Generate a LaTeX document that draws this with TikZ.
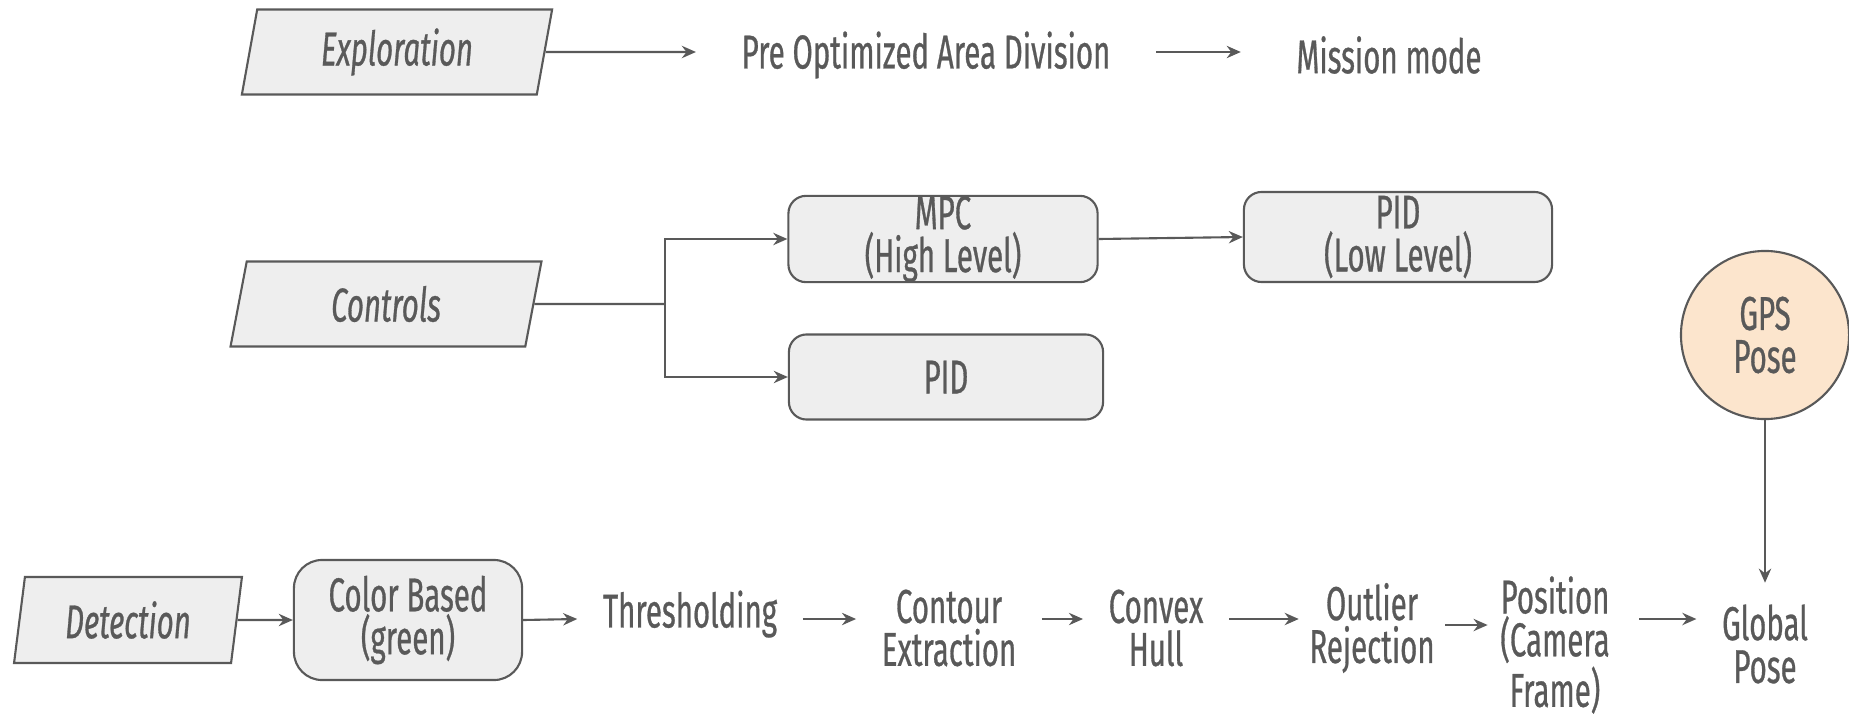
\documentclass[tikz,border=0pt]{standalone}
\usepackage{fontspec}
\setmainfont[FakeStretch=0.62, FakeBold=0.6]{Fira Sans}
\usepackage{tikz}
\usetikzlibrary{positioning, shapes.geometric, arrows.meta, calc}

\definecolor{inkgray}{HTML}{595959}
\definecolor{boxgray}{HTML}{EEEEEE}
\definecolor{gpsfill}{HTML}{FCE5CD}

\begin{document}
\begin{tikzpicture}[
    x=0.01cm, y=-0.01cm,
    % Base styles
    every node/.style={text=inkgray, font=\fontsize{13.5}{12.2}\selectfont},
    basebox/.style={align=center, inner sep=0pt, draw=inkgray, line width=0.6pt},
    % Slanted boxes for the three tasks
    inputbox/.style={basebox, fill=boxgray, trapezium, trapezium left angle=80, trapezium right angle=100,
        trapezium stretches=true, font=\fontsize{13.5}{12.2}\selectfont\itshape},
    % Rounded rectangle for methods
    processbox/.style={basebox, fill=boxgray, rectangle, rounded corners=5pt},
    % Plain text steps
    stagetext/.style={align=center, inner xsep=0.25cm, inner ysep=2pt},
    % Circle for the outside source
    sourcecircle/.style={basebox, circle, fill=gpsfill, minimum size=1.68cm},
    % Arrow styles
    arrow/.style={-{Stealth[length=4pt, width=3.5pt]}, draw=inkgray, line width=0.6pt},
    line/.style={draw=inkgray, line width=0.6pt},
]
\useasboundingbox (0,0) rectangle (1849,715);

% Row 1: Exploration
\node[inputbox, minimum width=3.11cm, minimum height=0.85cm] (explore) at (397,52) {Exploration};
\node[stagetext, inner xsep=0.45cm] (areadiv) at (926,55) {Pre Optimized Area Division};
\node[stagetext, inner xsep=0.55cm] (mission) at (1389,55) {Mission mode};
\coordinate (toprow) at (0,52);

\draw[arrow] (explore.east) -- (areadiv.west |- toprow);
\draw[arrow] (areadiv.east |- toprow) -- (mission.west |- toprow);

% Row 2: Controls
\node[inputbox, minimum width=3.11cm, minimum height=0.85cm] (controls) at (386,304) {Controls};
\node[processbox, minimum width=3.09cm, minimum height=0.86cm] (mpc) at (943,239) {MPC\\(High Level)};
\node[processbox, minimum width=3.14cm, minimum height=0.85cm] (pid) at (946,377) {PID};
\node[processbox, minimum width=3.08cm, minimum height=0.9cm] (pidlow) at (1398,237) {PID\\(Low Level)};
\coordinate (split) at (665,304);

\draw[line] (controls.east) -- (split);
\draw[arrow] (split) |- (mpc.west);
\draw[arrow] (split) |- (pid.west);
\draw[arrow] (mpc.east) -- (pidlow.west);

% GPS source feeding the global pose
\node[sourcecircle] (gps) at (1765,335) {GPS\\Pose};

% Row 3: Detection pipeline
\node[inputbox, minimum width=2.28cm, minimum height=0.86cm] (detect) at (128,620) {Detection};
\node[processbox, rounded corners=8pt, minimum width=2.28cm, minimum height=1.2cm] (colorbased) at (408,620) {Color Based\\(green)};
\node[stagetext] (thresh) at (690,614) {Thresholding};
\node[stagetext] (contour) at (949,628) {Contour\\Extraction};
\node[stagetext] (hull) at (1156,628) {Convex\\Hull};
\node[stagetext, inner xsep=0.1cm] (outlier) at (1372,628) {Outlier\\Rejection};
\node[stagetext, inner xsep=0.12cm] (campos) at (1555,645) {Position\\(Camera\\Frame)};
\node[stagetext] (globalpose) at (1765,644) {Global\\Pose};
\coordinate (botrow) at (0,619);
\coordinate (midrow) at (0,625);

\draw[arrow] (detect.east) -- (colorbased.west);
\draw[arrow] (colorbased.east) -- (thresh.west |- botrow);
\draw[arrow] (thresh.east |- botrow) -- (contour.west |- botrow);
\draw[arrow] (contour.east |- botrow) -- (hull.west |- botrow);
\draw[arrow] (hull.east |- botrow) -- (outlier.west |- botrow);
\draw[arrow] (outlier.east |- midrow) -- (campos.west |- midrow);
\draw[arrow, shorten <=0.17cm] (campos.east |- botrow) -- (globalpose.west |- botrow);
\draw[arrow, shorten >=0.14cm] (gps.south) -- (globalpose.north);

\end{tikzpicture}
\end{document}
